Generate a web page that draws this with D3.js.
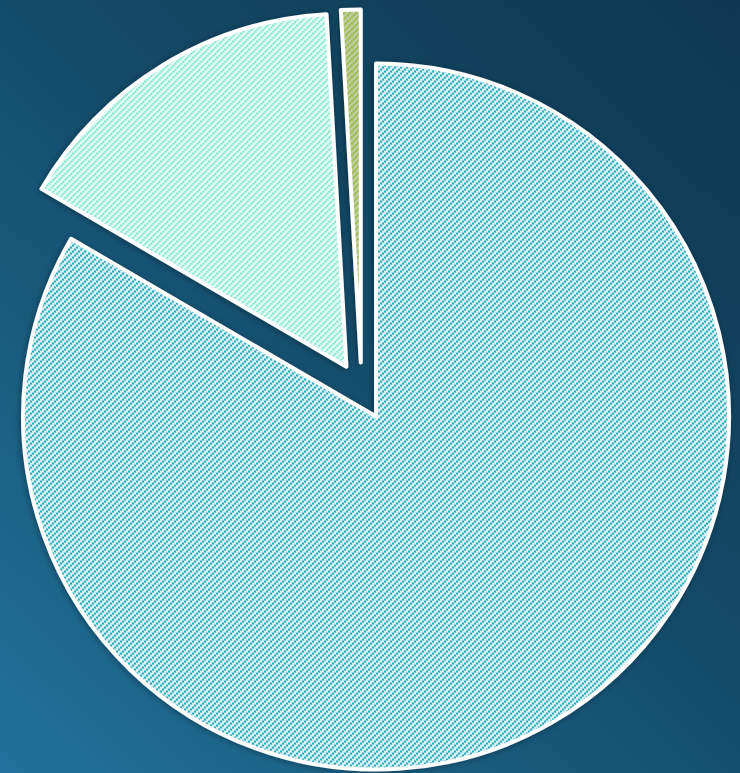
<!DOCTYPE html>
<html>
<head>
<meta charset="utf-8">
<script src="https://cdn.jsdelivr.net/npm/d3@7"></script>
<style>
  html, body { margin: 0; padding: 0; overflow: hidden; }
  svg { display: block; }
</style>
</head>
<body>
<script>
const categories = ["Slice A", "Slice B", "Slice C"];
const values = [83.4, 15.7, 0.9];

const W = 740, H = 773;
const cx = 361.6, cy = 391.4, R = 353, explodeDist = 29;
const fgColors = ["#2aa7b9", "#7ee6cb", "#8cba3c"];
const bgColors = ["#d3f0f3", "#e3fcf6", "#c3cba0"];

const svg = d3.select("body").append("svg").attr("width", W).attr("height", H);
const defs = svg.append("defs");

const bg = defs.append("linearGradient").attr("id", "bg")
  .attr("gradientUnits", "userSpaceOnUse")
  .attr("x1", W).attr("y1", 0).attr("x2", 0).attr("y2", H);
bg.append("stop").attr("offset", "0%").attr("stop-color", "#0e3750");
bg.append("stop").attr("offset", "45%").attr("stop-color", "#134a68");
bg.append("stop").attr("offset", "100%").attr("stop-color", "#20729a");

categories.forEach((c, i) => {
  const p = defs.append("pattern").attr("id", "pat" + i)
    .attr("patternUnits", "userSpaceOnUse").attr("width", 6).attr("height", 6);
  p.append("rect").attr("width", 6).attr("height", 6).attr("fill", bgColors[i]);
  [[0, 4], [2, 2], [4, 0]].forEach(([x, y]) =>
    p.append("rect").attr("x", x).attr("y", y).attr("width", 2).attr("height", 2).attr("fill", fgColors[i]));
});

const f = defs.append("filter").attr("id", "shadow")
  .attr("x", "-10%").attr("y", "-10%").attr("width", "120%").attr("height", "120%");
f.append("feDropShadow").attr("dx", -1).attr("dy", 1).attr("stdDeviation", 3)
  .attr("flood-color", "#000").attr("flood-opacity", 0.35);

svg.append("rect").attr("width", W).attr("height", H).attr("fill", "url(#bg)");

const pie = d3.pie().sort(null).startAngle(0).endAngle(2 * Math.PI);
const arcs = pie(values);
const arc = d3.arc().innerRadius(0).outerRadius(R);

const g = svg.append("g").attr("transform", `translate(${cx},${cy})`);
g.selectAll("path.slice").data(arcs).join("path")
  .attr("class", "slice")
  .attr("transform", d => {
    const a = (d.startAngle + d.endAngle) / 2;
    return `translate(${explodeDist * Math.sin(a)},${-explodeDist * Math.cos(a)})`;
  })
  .attr("d", arc)
  .attr("fill", (d, i) => `url(#pat${i})`)
  .attr("stroke", "#ffffff")
  .attr("stroke-width", 4)
  .attr("stroke-linejoin", "round")
  .attr("filter", "url(#shadow)");
</script>
</body>
</html>
